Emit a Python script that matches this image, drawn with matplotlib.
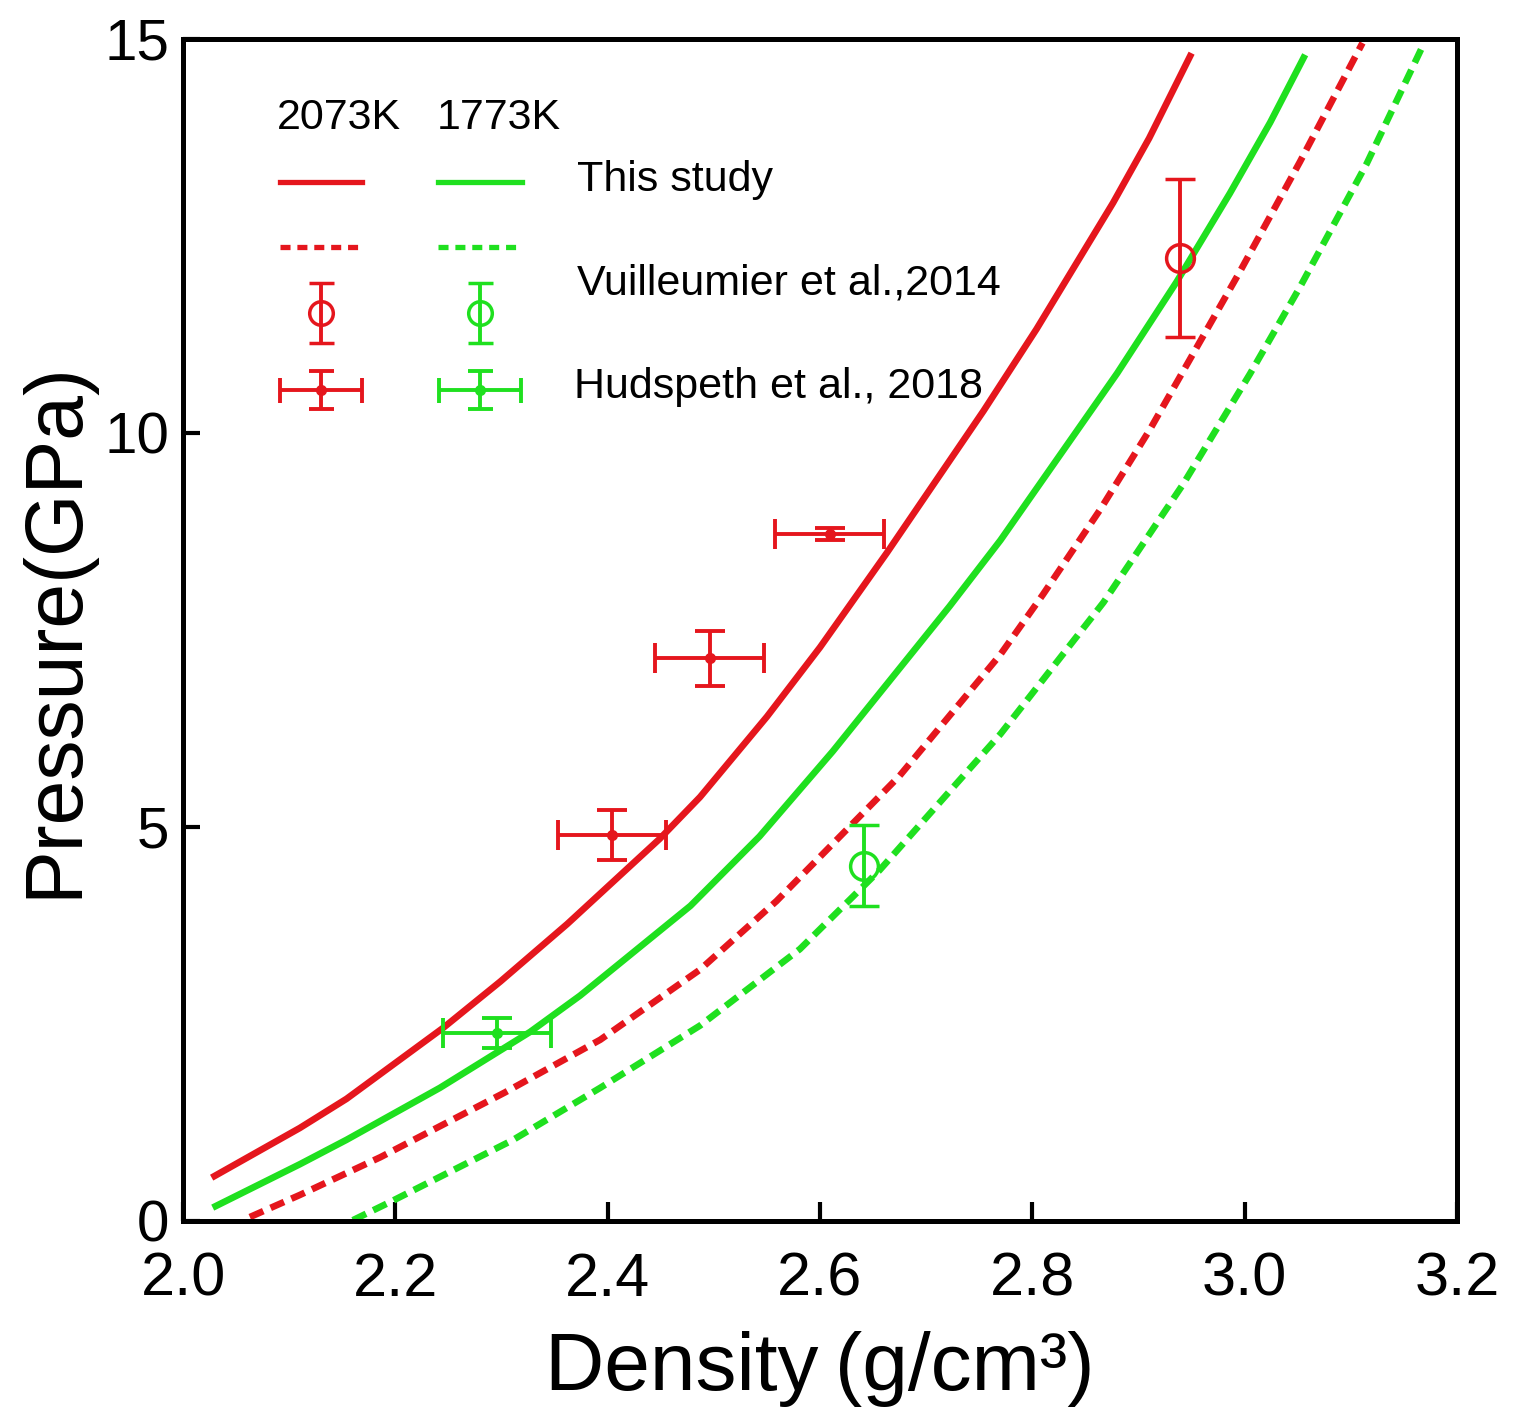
import matplotlib
matplotlib.use("Agg")
import matplotlib.pyplot as plt

plt.rcParams['font.family'] = ['Liberation Sans', 'DejaVu Sans']

# ---------------- data ----------------
# This study, 2073 K (red solid)
red_solid_x = [2.027, 2.110, 2.154, 2.245, 2.299, 2.362, 2.449, 2.487, 2.550, 2.600,
               2.663, 2.754, 2.804, 2.876, 2.910, 2.950]
red_solid_y = [0.55, 1.18, 1.55, 2.45, 3.04, 3.77, 4.85, 5.38, 6.40, 7.28,
               8.48, 10.28, 11.32, 12.92, 13.74, 14.82]
# This study, 1773 K (green solid)
green_solid_x = [2.028, 2.110, 2.154, 2.242, 2.327, 2.374, 2.478, 2.543, 2.612, 2.722,
                 2.770, 2.880, 2.936, 2.986, 3.024, 3.057]
green_solid_y = [0.17, 0.72, 1.03, 1.69, 2.40, 2.86, 4.00, 4.88, 5.96, 7.80,
                 8.64, 10.76, 11.92, 13.04, 13.94, 14.80]
# Vuilleumier et al., 2014, 2073 K (red dashed)
red_dash_x = [2.063, 2.110, 2.186, 2.303, 2.393, 2.487, 2.559, 2.675, 2.770, 2.810,
              2.864, 2.911, 2.996, 3.052, 3.111]
red_dash_y = [0.05, 0.33, 0.81, 1.63, 2.30, 3.19, 4.06, 5.65, 7.19, 7.95,
              9.03, 10.05, 12.06, 13.44, 14.95]
# Vuilleumier et al., 2014, 1773 K (green dashed)
green_dash_x = [2.160, 2.195, 2.311, 2.393, 2.487, 2.581, 2.656, 2.770, 2.867, 2.942,
                3.005, 3.052, 3.115, 3.168]
green_dash_y = [0.01, 0.24, 1.03, 1.69, 2.48, 3.45, 4.45, 6.18, 7.85, 9.35,
                10.75, 11.85, 13.42, 14.92]

# Vuilleumier et al., 2014 data points
vu_red_x, vu_red_y, vu_red_yerr = [2.939], [12.22], [1.00]
vu_green_x, vu_green_y, vu_green_yerr = [2.641], [4.51], [0.51]

# Hudspeth et al., 2018 data points
hu_red_x = [2.404, 2.496, 2.609]
hu_red_y = [4.90, 7.14, 8.72]
hu_red_xerr = [0.051, 0.051, 0.051]
hu_red_yerr = [0.32, 0.35, 0.08]
hu_green_x = [2.296]
hu_green_y = [2.39]
hu_green_xerr = [0.051]
hu_green_yerr = [0.19]

x_ticks = [2.0, 2.2, 2.4, 2.6, 2.8, 3.0, 3.2]
x_tick_labels = ['2.0', '2.2', '2.4', '2.6', '2.8', '3.0', '3.2']
y_ticks = [0, 5, 10, 15]
y_tick_labels = ['0', '5', '10', '15']

temps = ['2073K', '1773K']
series_labels = ['This study', 'Vuilleumier et al.,2014', 'Hudspeth et al., 2018']

RED = '#E5161D'
GREEN = '#1FE01F'

# ---------------- figure ----------------
W, H = 1522, 1421
fig = plt.figure(figsize=(W / 100, H / 100), dpi=100)
ax = fig.add_axes([183 / W, 1 - 1221 / H, (1457 - 183) / W, (1221 - 39) / H])

LW = 4.8
DASH = (2.2, 1.2)
ax.plot(red_solid_x, red_solid_y, color=RED, lw=LW, solid_capstyle='butt',
        solid_joinstyle='round')
ax.plot(green_solid_x, green_solid_y, color=GREEN, lw=LW, solid_capstyle='butt',
        solid_joinstyle='round')
ax.plot(red_dash_x, red_dash_y, color=RED, lw=LW, dashes=DASH)
ax.plot(green_dash_x, green_dash_y, color=GREEN, lw=LW, dashes=DASH)

EB = dict(elinewidth=2.8, capsize=11, capthick=2.8)
ax.errorbar(hu_red_x, hu_red_y, xerr=hu_red_xerr, yerr=hu_red_yerr, fmt='o', ms=7,
            color=RED, **EB)
ax.errorbar(hu_green_x, hu_green_y, xerr=hu_green_xerr, yerr=hu_green_yerr, fmt='o', ms=7,
            color=GREEN, **EB)
ax.errorbar(vu_red_x, vu_red_y, yerr=vu_red_yerr, fmt='o', ms=20, mfc='none', mec=RED,
            mew=2.5, color=RED, **EB)
ax.errorbar(vu_green_x, vu_green_y, yerr=vu_green_yerr, fmt='o', ms=20, mfc='none', mec=GREEN,
            mew=2.5, color=GREEN, **EB)

ax.set_xlim(2.0, 3.2)
ax.set_ylim(0, 15)
ax.set_xticks(x_ticks)
ax.set_xticklabels(x_tick_labels)
ax.set_yticks(y_ticks)
ax.set_yticklabels(y_tick_labels)
ax.tick_params(axis='x', direction='in', length=14, width=3, labelsize=44, pad=22)
ax.tick_params(axis='y', direction='in', length=12, width=3, labelsize=42, pad=10)
for s in ax.spines.values():
    s.set_linewidth(3.6)

ax.set_xlabel('Density\u2009(g/cm\u00b3)', fontsize=59, labelpad=16)
ax.set_ylabel('Pressure(GPa)', fontsize=58, labelpad=8)

# ---------------- legend (pixel layout overlay) ----------------
lax = fig.add_axes([0, 0, 1, 1], zorder=5)
lax.set_xlim(0, W)
lax.set_ylim(H, 0)
lax.axis('off')
lax.patch.set_alpha(0)

LFS = 31
col_x = [(280, 362), (438, 522)]
cols = [RED, GREEN]
lax.text(277, 118, temps[0], fontsize=LFS, va='center', ha='left')
lax.text(437, 118, temps[1], fontsize=LFS, va='center', ha='left')
for (x0, x1), c in zip(col_x, cols):
    xm = (x0 + x1) / 2
    lax.plot([x0, x1], [182, 182], color=c, lw=3.8)
    lax.plot([x0, x1], [247, 247], color=c, lw=3.8, dashes=(1.9, 1.3))
    lax.errorbar([xm], [313], yerr=[30], fmt='o', ms=17, mfc='none', mec=c, mew=2.5,
                 color=c, elinewidth=2.8, capsize=9, capthick=2.8)
    lax.errorbar([xm], [390], xerr=[41], yerr=[19], fmt='o', ms=7, color=c,
                 elinewidth=2.8, capsize=9, capthick=2.8)
lax.text(577, 180, series_labels[0], fontsize=LFS, va='center', ha='left')
lax.text(577, 284, series_labels[1], fontsize=LFS, va='center', ha='left')
lax.text(574, 387, series_labels[2], fontsize=LFS, va='center', ha='left')

fig.savefig('out.png', dpi=100)
